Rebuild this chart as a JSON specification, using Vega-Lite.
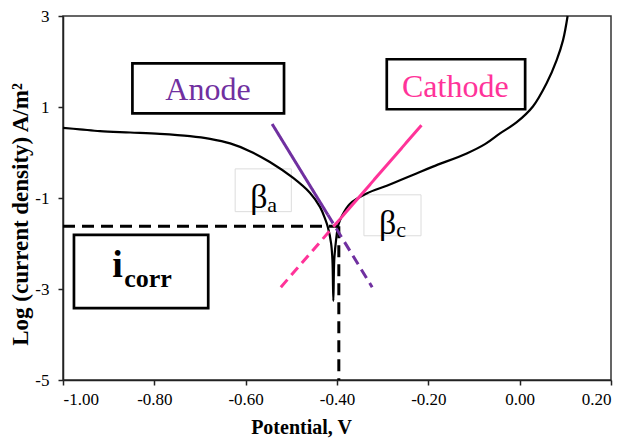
{
  "$schema": "https://vega.github.io/schema/vega-lite/v6.json",
  "width": 548,
  "height": 364,
  "autosize": {"type": "none"},
  "padding": {"left": 63, "top": 16, "right": 18, "bottom": 59},
  "background": "white",
  "config": {
    "view": {"stroke": "#333333", "strokeWidth": 1.5},
    "axis": {
      "domainColor": "#222222",
      "domainWidth": 1.5,
      "tickColor": "#222222",
      "tickWidth": 1.5,
      "tickSize": 5,
      "grid": false,
      "labelFont": "Liberation Serif",
      "labelFontSize": 17,
      "labelColor": "black",
      "titleFont": "Liberation Serif",
      "titleFontWeight": "bold",
      "titleFontSize": 20,
      "titleColor": "black"
    },
    "text": {"font": "Liberation Serif"}
  },
  "datasets": {
    "curve": [
      {"i": 1, "E": -1.0, "logi": 0.54},
      {"i": 2, "E": -0.963, "logi": 0.51},
      {"i": 3, "E": -0.919, "logi": 0.47},
      {"i": 4, "E": -0.853, "logi": 0.44},
      {"i": 5, "E": -0.788, "logi": 0.41},
      {"i": 6, "E": -0.722, "logi": 0.36},
      {"i": 7, "E": -0.678, "logi": 0.3},
      {"i": 8, "E": -0.634, "logi": 0.2},
      {"i": 9, "E": -0.591, "logi": 0.03},
      {"i": 10, "E": -0.547, "logi": -0.21},
      {"i": 11, "E": -0.496, "logi": -0.56},
      {"i": 12, "E": -0.459, "logi": -0.89},
      {"i": 13, "E": -0.437, "logi": -1.2},
      {"i": 14, "E": -0.426, "logi": -1.46},
      {"i": 15, "E": -0.42, "logi": -1.64},
      {"i": 16, "E": -0.413, "logi": -1.99},
      {"i": 17, "E": -0.41, "logi": -2.36},
      {"i": 18, "E": -0.408, "logi": -3.26},
      {"i": 19, "E": -0.406, "logi": -2.36},
      {"i": 20, "E": -0.402, "logi": -1.92},
      {"i": 21, "E": -0.397, "logi": -1.59},
      {"i": 22, "E": -0.39, "logi": -1.41},
      {"i": 23, "E": -0.372, "logi": -1.13},
      {"i": 24, "E": -0.335, "logi": -0.9},
      {"i": 25, "E": -0.291, "logi": -0.73},
      {"i": 26, "E": -0.262, "logi": -0.61},
      {"i": 27, "E": -0.226, "logi": -0.46},
      {"i": 28, "E": -0.19, "logi": -0.31},
      {"i": 29, "E": -0.116, "logi": -0.02},
      {"i": 30, "E": -0.075, "logi": 0.19},
      {"i": 31, "E": -0.043, "logi": 0.42},
      {"i": 32, "E": -0.007, "logi": 0.66},
      {"i": 33, "E": 0.029, "logi": 1.01},
      {"i": 34, "E": 0.059, "logi": 1.52},
      {"i": 35, "E": 0.081, "logi": 2.03},
      {"i": 36, "E": 0.095, "logi": 2.47},
      {"i": 37, "E": 0.105, "logi": 3.0}
    ],
    "tafel": [
      {"line": "Anode", "style": "solid", "E": -0.542, "logi": 0.626},
      {"line": "Anode", "style": "solid", "E": -0.42, "logi": -1.37},
      {"line": "Anode", "style": "dashed", "E": -0.42, "logi": -1.37},
      {"line": "Anode", "style": "dashed", "E": -0.323, "logi": -2.96},
      {"line": "Cathode", "style": "solid", "E": -0.215, "logi": 0.6},
      {"line": "Cathode", "style": "solid", "E": -0.394, "logi": -1.47},
      {"line": "Cathode", "style": "dashed", "E": -0.394, "logi": -1.47},
      {"line": "Cathode", "style": "dashed", "E": -0.523, "logi": -2.96}
    ],
    "guides": [
      {"line": "icorr", "E": -1.0, "logi": -1.62},
      {"line": "icorr", "E": -0.397, "logi": -1.62},
      {"line": "Ecorr", "E": -0.396, "logi": -1.62},
      {"line": "Ecorr", "E": -0.396, "logi": -5.0}
    ],
    "boxes": [
      {"name": "Anode", "kind": "frame", "x1": -0.848, "x2": -0.516, "y1": 1.96, "y2": 0.86},
      {"name": "Cathode", "kind": "frame", "x1": -0.291, "x2": 0.012, "y1": 2.05, "y2": 0.95},
      {"name": "icorr", "kind": "frame", "x1": -0.976, "x2": -0.682, "y1": -1.81, "y2": -3.42},
      {"name": "beta_a", "kind": "faint", "x1": -0.623, "x2": -0.5, "y1": -0.36, "y2": -1.3},
      {"name": "beta_c", "kind": "faint", "x1": -0.341, "x2": -0.216, "y1": -0.93, "y2": -1.83}
    ],
    "labels": [
      {"role": "anode", "txt": "Anode", "E": -0.6825, "logi": 1.154},
      {"role": "cathode", "txt": "Cathode", "E": -0.141, "logi": 1.22},
      {"role": "beta", "txt": "β", "E": -0.59, "logi": -1.22},
      {"role": "sub", "txt": "a", "E": -0.553, "logi": -1.297},
      {"role": "beta", "txt": "β", "E": -0.308, "logi": -1.79},
      {"role": "sub", "txt": "c", "E": -0.27, "logi": -1.855},
      {"role": "i", "txt": "i", "E": -0.892, "logi": -2.73},
      {"role": "corr", "txt": "corr", "E": -0.866, "logi": -2.95}
    ]
  },
  "encoding": {
    "x": {
      "field": "E",
      "type": "quantitative",
      "scale": {"domain": [-1.0, 0.2], "nice": false, "zero": false},
      "axis": {
        "title": "Potential, V",
        "values": [-1.0, -0.8, -0.6, -0.4, -0.2, 0.0, 0.2],
        "labelExpr": "replace(format(datum.value, '.2f'), '\u2212', '-')",
        "labelPadding": 6,
        "titleX": 238,
        "titleY": 47,
        "titleBaseline": "middle",
        "titleAlign": "center"
      }
    },
    "y": {
      "field": "logi",
      "type": "quantitative",
      "scale": {"domain": [-5, 3], "nice": false, "zero": false},
      "axis": {
        "title": "Log (current density) A/m²",
        "titleFontSize": 23,
        "values": [-5, -3, -1, 1, 3],
        "labelExpr": "replace(format(datum.value, 'd'), '\u2212', '-')",
        "labelPadding": 9,
        "titleX": -43,
        "titleY": 198,
        "titleAngle": 270,
        "titleAlign": "center",
        "titleBaseline": "middle"
      }
    }
  },
  "layer": [
    {
      "data": {"name": "boxes"},
      "transform": [{"filter": "datum.kind === 'faint'"}],
      "mark": {"type": "rect", "fill": "white", "stroke": "#dcdcdc", "strokeWidth": 1},
      "encoding": {
        "x": {"field": "x1", "type": "quantitative"},
        "x2": {"field": "x2"},
        "y": {"field": "y1", "type": "quantitative"},
        "y2": {"field": "y2"}
      }
    },
    {
      "data": {"name": "curve"},
      "mark": {"type": "line", "color": "black", "strokeWidth": 2.2, "interpolate": "catmull-rom"},
      "encoding": {"order": {"field": "i", "type": "quantitative"}}
    },
    {
      "data": {"name": "guides"},
      "mark": {"type": "line", "color": "black", "strokeWidth": 3, "strokeDash": [12, 7]},
      "encoding": {"detail": {"field": "line", "type": "nominal"}}
    },
    {
      "data": {"name": "tafel"},
      "mark": {"type": "line", "strokeWidth": 3},
      "encoding": {
        "detail": {"field": "style", "type": "nominal"},
        "color": {
          "field": "line",
          "type": "nominal",
          "scale": {"domain": ["Anode", "Cathode"], "range": ["#7030A0", "#FF3399"]},
          "legend": null
        },
        "strokeDash": {
          "field": "style",
          "type": "nominal",
          "scale": {"domain": ["solid", "dashed"], "range": [[1, 0], [10, 6]]},
          "legend": null
        }
      }
    },
    {
      "data": {"name": "boxes"},
      "transform": [{"filter": "datum.kind === 'frame'"}],
      "mark": {"type": "rect", "fill": "white", "stroke": "black", "strokeWidth": 2.7},
      "encoding": {
        "x": {"field": "x1", "type": "quantitative"},
        "x2": {"field": "x2"},
        "y": {"field": "y1", "type": "quantitative"},
        "y2": {"field": "y2"}
      }
    },
    {
      "data": {"name": "labels"},
      "transform": [{"filter": "datum.role === 'anode'"}],
      "mark": {"type": "text", "fontSize": 32, "color": "#7030A0", "align": "center", "baseline": "alphabetic"},
      "encoding": {"text": {"field": "txt"}}
    },
    {
      "data": {"name": "labels"},
      "transform": [{"filter": "datum.role === 'cathode'"}],
      "mark": {"type": "text", "fontSize": 32, "color": "#FF3399", "align": "center", "baseline": "alphabetic"},
      "encoding": {"text": {"field": "txt"}}
    },
    {
      "data": {"name": "labels"},
      "transform": [{"filter": "datum.role === 'beta'"}],
      "mark": {"type": "text", "fontSize": 34, "color": "black", "align": "left", "baseline": "alphabetic"},
      "encoding": {"text": {"field": "txt"}}
    },
    {
      "data": {"name": "labels"},
      "transform": [{"filter": "datum.role === 'sub'"}],
      "mark": {"type": "text", "fontSize": 22, "color": "black", "align": "left", "baseline": "alphabetic"},
      "encoding": {"text": {"field": "txt"}}
    },
    {
      "data": {"name": "labels"},
      "transform": [{"filter": "datum.role === 'i'"}],
      "mark": {"type": "text", "fontSize": 38, "fontWeight": "bold", "color": "black", "align": "left", "baseline": "alphabetic"},
      "encoding": {"text": {"field": "txt"}}
    },
    {
      "data": {"name": "labels"},
      "transform": [{"filter": "datum.role === 'corr'"}],
      "mark": {"type": "text", "fontSize": 26, "fontWeight": "bold", "color": "black", "align": "left", "baseline": "alphabetic"},
      "encoding": {"text": {"field": "txt"}}
    }
  ]
}
